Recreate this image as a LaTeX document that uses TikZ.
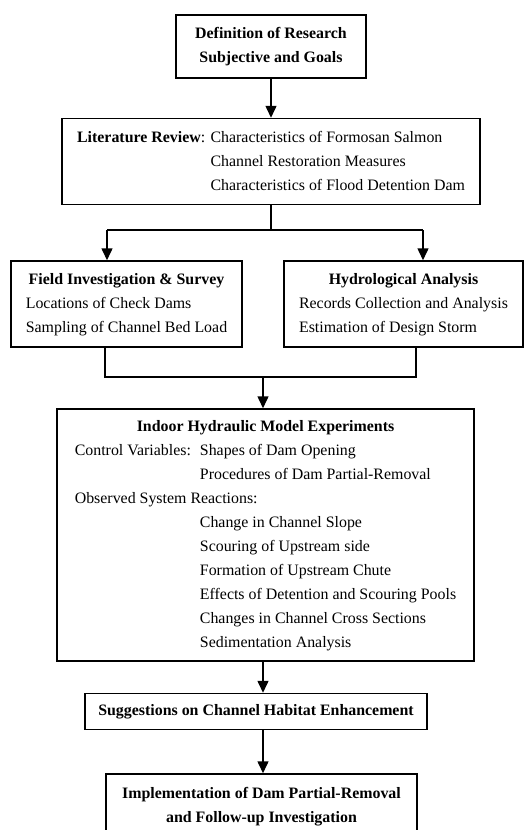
\documentclass[tikz,border=0pt]{standalone}
\usepackage{fontspec}
\setmainfont{Liberation Serif}
\usepackage{tikz}
\usetikzlibrary{positioning}
\usetikzlibrary{arrows.meta}

\begin{document}
\begin{tikzpicture}[x=1pt, y=-1pt, -> , >={Triangle[length=12pt,width=11pt]}, line width=1.5pt,
    box/.style={rectangle, draw, inner sep=0pt, align=center,
        font=\fontsize{15.9}{24}\selectfont}]
        \useasboundingbox (0,0) rectangle (525,830);
        \clip (0,0) rectangle (525,830);

        \node [box, minimum width=190pt, minimum height=63pt] (def) at (271,46.5)
            {\textbf{Definition of Research}\\ \textbf{Subjective and Goals}};
        \node [box, minimum width=418pt, minimum height=86pt, below=39pt of def] (lit)
            {\begin{tabular}{@{}l@{ }l@{}}
                \textbf{Literature Review}: & Characteristics of Formosan Salmon\\
                & Channel Restoration Measures\\
                & Characteristics of Flood Detention Dam
            \end{tabular}};
        \node [box, minimum width=231pt, minimum height=86pt] (field) at (126.5,304)
            {\begin{tabular}{@{}l@{}}
                \multicolumn{1}{@{}c@{}}{\textbf{Field Investigation \& Survey}}\\
                Locations of Check Dams\\
                Sampling of Channel Bed Load
            \end{tabular}};
        \node [box, minimum width=239pt, minimum height=86pt] (hydro) at (403.5,304)
            {\begin{tabular}{@{}l@{}}
                \multicolumn{1}{@{}c@{}}{\textbf{Hydrological Analysis}}\\
                Records Collection and Analysis\\
                Estimation of Design Storm
            \end{tabular}};
        \node [box, minimum width=417pt, minimum height=252pt] (indoor) at (265.5,535)
            {\begin{tabular}{@{}l@{\hspace{9pt}}l@{}}
                \multicolumn{2}{@{}c@{}}{\textbf{Indoor Hydraulic Model Experiments}}\\
                Control Variables: & Shapes of Dam Opening\\
                & Procedures of Dam Partial-Removal\\
                \multicolumn{2}{@{}l@{}}{Observed System Reactions:}\\
                & Change in Channel Slope\\
                & Scouring of Upstream side\\
                & Formation of Upstream Chute\\
                & Effects of Detention and Scouring Pools\\
                & Changes in Channel Cross Sections\\
                & Sedimentation Analysis
            \end{tabular}};
        \node [box, minimum width=342pt, minimum height=36pt, below=31pt of indoor, xshift=-9.5pt] (sugg)
            {\textbf{Suggestions on Channel Habitat Enhancement}};
        \node [box, minimum width=311pt, minimum height=66pt, below=43pt of sugg, xshift=5.5pt] (impl)
            {\textbf{Implementation of Dam Partial-Removal}\\ \textbf{and Follow-up Investigation}};

        \coordinate (forkL) at (107,230);
        \coordinate (forkR) at (423,230);
        \coordinate (joinL) at (105,377);
        \coordinate (joinR) at (416,377);
        \coordinate (spine) at (263,377);

        \draw (def) -- (lit);
        \draw [-] (lit.south) -- (lit.south |- forkL);
        \draw [-] (forkL) -- (forkR);
        \draw (forkL) -- (forkL |- field.north);
        \draw (forkR) -- (forkR |- hydro.north);
        \draw [-] (field.south -| joinL) -- (joinL) -- (joinR) -- (hydro.south -| joinR);
        \draw (spine) -- (spine |- indoor.north);
        \draw (indoor.south -| spine) -- (sugg.north -| spine);
        \draw (sugg.south -| spine) -- (impl.north -| spine);
    \end{tikzpicture}
\end{document}
